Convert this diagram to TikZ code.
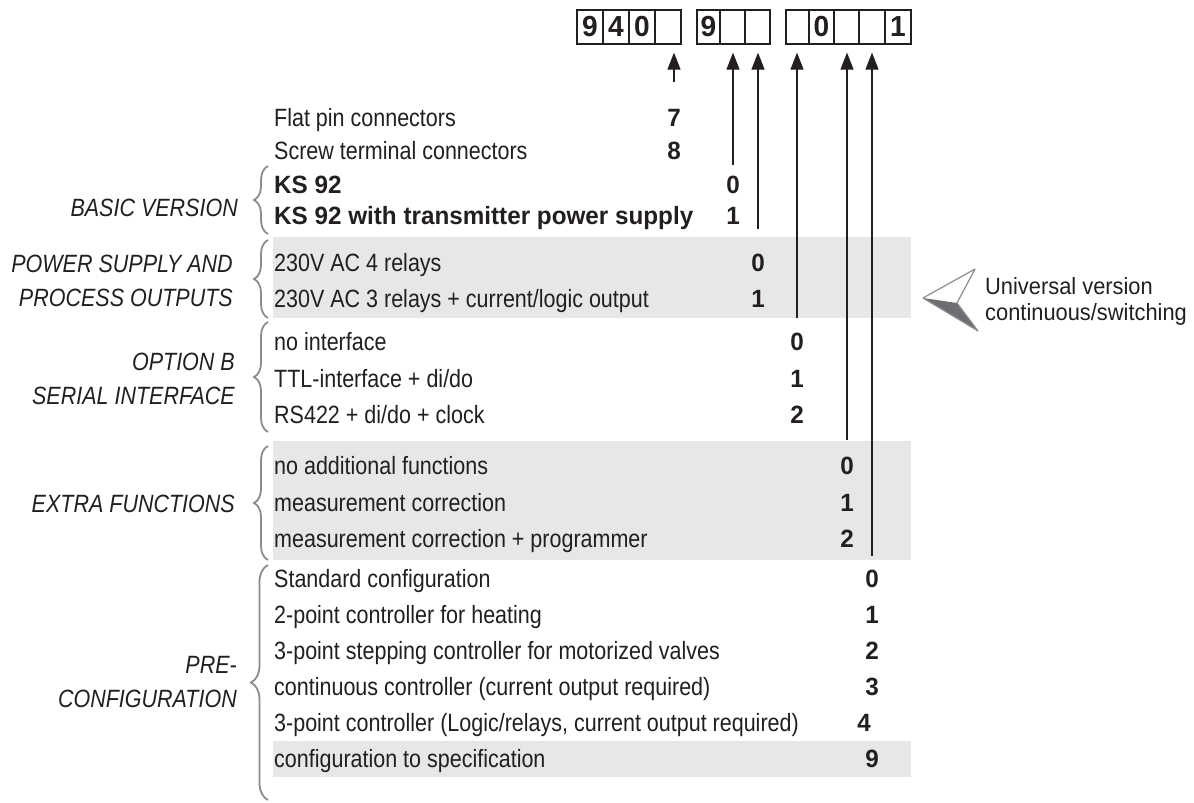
\documentclass[tikz,border=0pt]{standalone}
\usepackage{fontspec}
\setmainfont{Liberation Sans}[FakeStretch=0.86]
\newfontfamily\bcond{Liberation Sans}[FakeStretch=0.97]
\newfontfamily\ncond{Liberation Sans}[FakeStretch=0.93]
\usetikzlibrary{arrows.meta,decorations.pathreplacing,calc}
\definecolor{ink}{HTML}{231F20}
\definecolor{bandgray}{HTML}{E6E7E8}
\definecolor{bracegray}{HTML}{8A8C8E}
\definecolor{tridark}{HTML}{6D6E71}
\begin{document}
\begin{tikzpicture}[x=1pt,y=-1pt,
  txt/.style={anchor=base west,inner sep=0pt,text=ink,font=\fontsize{25}{29}\selectfont},
  btxt/.style={txt,font=\fontsize{25}{29}\selectfont\bcond\bfseries},
  dig/.style={anchor=base,inner sep=0pt,text=ink,font=\fontsize{25}{29}\selectfont\bcond\bfseries},
  lab/.style={anchor=base east,inner sep=0pt,text=ink,align=right,font=\fontsize{25}{34}\selectfont\itshape},
  note/.style={anchor=base west,inner sep=0pt,text=ink,font=\fontsize{23.5}{26}\selectfont\ncond},
  cell/.style={draw=ink,line width=1.2pt,minimum height=34pt,inner sep=0pt,text=ink,font=\fontsize{29}{30}\selectfont\bcond\bfseries},
  band/.style={fill=bandgray,draw=none},
  brc/.style={decorate,decoration={brace,amplitude=14pt},draw=bracegray,line width=1.8pt},
  arr/.style={draw=ink,line width=1.2pt,-{Triangle[length=17pt,width=13pt]}}]
\useasboundingbox (0,0) rectangle (1194,803);
% bands
\fill[band] (273,237) rectangle (911,318);
\fill[band] (273,441) rectangle (911,560);
\fill[band] (273,741) rectangle (911,777);
% code cells
\node[cell,minimum width=26pt] (c11) at (590,27) {9};
\node[cell,minimum width=26pt] (c12) at (616,27) {4};
\node[cell,minimum width=26pt] (c13) at (642,27) {0};
\node[cell,minimum width=26pt] (c14) at (668,27) {};
\node[cell,minimum width=23pt] (c21) at (708.5,27) {9};
\node[cell,minimum width=25pt] (c22) at (732.5,27) {};
\node[cell,minimum width=25pt] (c23) at (757.5,27) {};
\node[cell,minimum width=23pt] (c31) at (797.5,27) {};
\node[cell,minimum width=25pt] (c32) at (821.5,27) {0};
\node[cell,minimum width=25pt] (c33) at (846.5,27) {};
\node[cell,minimum width=26pt] (c34) at (872,27) {};
\node[cell,minimum width=26pt] (c35) at (898,27) {1};
% rows
\node[txt] (t1) at (274,126) {Flat pin connectors};
\node[dig] (d1) at (674,126) {7};
\node[txt] (t2) at (274,159) {Screw terminal connectors};
\node[dig] (d2) at (674,159) {8};
\node[btxt] (t3) at (274,193) {KS 92};
\node[dig] (d3) at (733,193) {0};
\node[btxt] (t4) at (274,224) {KS 92 with transmitter power supply};
\node[dig] (d4) at (733,224) {1};
\node[txt] (t5) at (274,271) {230V AC 4 relays};
\node[dig] (d5) at (758,271) {0};
\node[txt] (t6) at (274,307) {230V AC 3 relays + current/logic output};
\node[dig] (d6) at (758,307) {1};
\node[txt] (t7) at (274,350) {no interface};
\node[dig] (d7) at (797,350) {0};
\node[txt] (t8) at (274,387) {TTL-interface + di/do};
\node[dig] (d8) at (797,387) {1};
\node[txt] (t9) at (274,423) {RS422 + di/do + clock};
\node[dig] (d9) at (797,423) {2};
\node[txt] (t10) at (274,474) {no additional functions};
\node[dig] (d10) at (847,474) {0};
\node[txt] (t11) at (274,511) {measurement correction};
\node[dig] (d11) at (847,511) {1};
\node[txt] (t12) at (274,547) {measurement correction + programmer};
\node[dig] (d12) at (847,547) {2};
\node[txt] (t13) at (274,587) {Standard configuration};
\node[dig] (d13) at (872,587) {0};
\node[txt] (t14) at (274,623) {2-point controller for heating};
\node[dig] (d14) at (872,623) {1};
\node[txt] (t15) at (274,659) {3-point stepping controller for motorized valves};
\node[dig] (d15) at (872,659) {2};
\node[txt] (t16) at (274,695) {continuous controller (current output required)};
\node[dig] (d16) at (872,695) {3};
\node[txt] (t17) at (274,731) {3-point controller (Logic/relays, current output required)};
\node[dig] (d17) at (864,731) {4};
\node[txt] (t18) at (274,767) {configuration to specification};
\node[dig] (d18) at (872,767) {9};
% arrows
\coordinate (s1) at (674,82);
\coordinate (s2) at (733,165);
\coordinate (s3) at (758,229);
\coordinate (s4) at (797,318);
\coordinate (s5) at (847,440);
\coordinate (s6) at (872,556);
\draw[arr,shorten >=8pt] (s1) -- (s1 |- c14.south);
\draw[arr,shorten >=8pt] (s2) -- (s2 |- c22.south);
\draw[arr,shorten >=8pt] (s3) -- (s3 |- c23.south);
\draw[arr,shorten >=8pt] (s4) -- (s4 |- c31.south);
\draw[arr,shorten >=8pt] (s5) -- (s5 |- c33.south);
\draw[arr,shorten >=8pt] (s6) -- (s6 |- c34.south);
% braces
\draw[brc] (268,234) -- (268,166);
\draw[brc] (268,318) -- (268,240);
\draw[brc] (268,432) -- (268,322);
\draw[brc] (268,560) -- (268,446);
\draw[brc,decoration={brace,amplitude=17pt}] (268,800) -- (268,565);
% group labels (base = last line)
\node[lab] (l1) at (238,216) {BASIC VERSION};
\node[lab] (l2) at (233,306) {POWER SUPPLY AND\\PROCESS OUTPUTS};
\node[lab] (l3) at (235,404) {OPTION B\\SERIAL INTERFACE};
\node[lab] (l4) at (235,512) {EXTRA FUNCTIONS};
\node[lab] (l5) at (237,707) {PRE-\\CONFIGURATION};
% pointer
\coordinate (p1) at (923,298);
\coordinate (p2) at (975,269);
\coordinate (p3) at (957,303);
\coordinate (p4) at (978,331);
\fill[tridark] (p1) -- (p3) -- (p4) -- cycle;
\draw[bracegray,line width=1.2pt,line join=round] (p1) -- (p2) -- (p3) -- (p4) -- cycle;
\node[note] (n1) at (985,294) {Universal version};
\node[note] (n2) at (985,320) {continuous/switching};
\end{tikzpicture}
\end{document}
